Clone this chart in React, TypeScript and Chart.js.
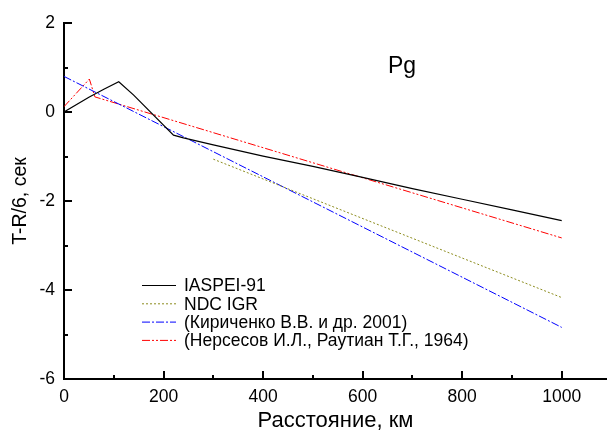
import React, { useEffect, useRef } from "react";
import { Chart, registerables } from "chart.js";

Chart.register(...registerables);

// ---- data ----
const iaspeiDist = [0, 50, 80, 110, 140, 220, 240, 300, 400, 500, 600, 700, 800, 900, 1000];
const iaspeiVal = [0, 0.33, 0.51, 0.68, 0.38, -0.52, -0.58, -0.74, -0.99, -1.22, -1.47, -1.72, -1.96, -2.2, -2.44];

const ndcDist = [300, 1000];
const ndcVal = [-1.06, -4.17];

const kirDist = [0, 1000];
const kirVal = [0.8, -4.84];

const nerDist = [0, 51, 62, 1000];
const nerVal = [0.12, 0.74, 0.34, -2.83];

const seriesLabels = [
  "IASPEI-91",
  "NDC IGR",
  "(Кириченко В.В. и др. 2001)",
  "(Нерсесов И.Л., Раутиан Т.Г., 1964)",
];
const seriesColors = ["#000000", "#8c8c1e", "#0000ff", "#ff0000"];
const seriesDash: number[][] = [[], [2, 2], [8, 2, 2, 2], [8, 2, 2, 2, 2, 2]];

const xTickValues = [0, 100, 200, 300, 400, 500, 600, 700, 800, 900, 1000];
const yTickValues = [-6, -5, -4, -3, -2, -1, 0, 1, 2];

const chartTitle = "Pg";
const xTitle = "Расстояние, км";
const yTitle = "T-R/6, сек";

const FONT = "'Liberation Sans', Arial, sans-serif";

const toPoints = (xs: number[], ys: number[]) => xs.map((x, i) => ({ x, y: ys[i] }));

const decorPlugin = {
  id: "decor",
  afterDraw(chart: any) {
    const { ctx, chartArea } = chart;
    const xs = chart.scales.x;
    const ys = chart.scales.y;
    ctx.save();
    ctx.strokeStyle = "#000";
    ctx.lineWidth = 2;
    ctx.setLineDash([]);
    // inward ticks on x axis
    xTickValues.forEach((v) => {
      const px = Math.round(xs.getPixelForValue(v));
      const len = v % 200 === 0 ? 8 : 4;
      ctx.beginPath();
      ctx.moveTo(px, chartArea.bottom);
      ctx.lineTo(px, chartArea.bottom - len);
      ctx.stroke();
    });
    // inward ticks on y axis
    yTickValues.forEach((v) => {
      const py = Math.round(ys.getPixelForValue(v));
      const len = v % 2 === 0 ? 8 : 4;
      ctx.beginPath();
      ctx.moveTo(chartArea.left, py);
      ctx.lineTo(chartArea.left + len, py);
      ctx.stroke();
    });
    // title text
    ctx.fillStyle = "#000";
    ctx.font = `23px ${FONT}`;
    ctx.textAlign = "left";
    ctx.textBaseline = "alphabetic";
    ctx.fillText(chartTitle, 388, 73);
    // legend
    ctx.font = `17.5px ${FONT}`;
    ctx.textBaseline = "middle";
    chart.data.datasets.forEach((ds: any, i: number) => {
      const yMid = 286.5 + i * 18.3;
      ctx.strokeStyle = ds.borderColor;
      ctx.lineWidth = 1;
      ctx.setLineDash(ds.borderDash || []);
      ctx.beginPath();
      ctx.moveTo(142, yMid - 1);
      ctx.lineTo(176, yMid - 1);
      ctx.stroke();
      ctx.setLineDash([]);
      ctx.fillStyle = "#000";
      ctx.fillText(ds.label, 184, yMid);
    });
    ctx.restore();
  },
};

export default function App() {
  const canvasRef = useRef<HTMLCanvasElement | null>(null);

  useEffect(() => {
    if (!canvasRef.current) return;
    const datasets = [
      toPoints(iaspeiDist, iaspeiVal),
      toPoints(ndcDist, ndcVal),
      toPoints(kirDist, kirVal),
      toPoints(nerDist, nerVal),
    ].map((data, i) => ({
      label: seriesLabels[i],
      data,
      borderColor: seriesColors[i],
      backgroundColor: seriesColors[i],
      borderDash: seriesDash[i],
      borderWidth: i === 0 ? 1.2 : 1,
      pointRadius: 0,
      tension: 0,
      fill: false,
    }));

    const chart = new Chart(canvasRef.current, {
      type: "line",
      data: { datasets },
      options: {
        animation: false,
        responsive: true,
        maintainAspectRatio: false,
        devicePixelRatio: 1,
        layout: { padding: { top: 23, left: 0, right: 0, bottom: 0 } },
        plugins: {
          legend: { display: false },
          tooltip: { enabled: false },
          title: { display: false },
        },
        scales: {
          x: {
            type: "linear",
            min: 0,
            max: 1091,
            afterBuildTicks: (scale: any) => {
              scale.ticks = xTickValues.map((v) => ({ value: v }));
            },
            afterFit: (scale: any) => {
              scale.height = 58;
            },
            grid: { display: false, drawTicks: false },
            border: { display: true, color: "#000", width: 2 },
            ticks: {
              color: "#000",
              font: { family: FONT, size: 17.5 },
              padding: 8,
              maxRotation: 0,
              autoSkip: false,
              callback: (v: any) => (Number(v) % 200 === 0 ? String(v) : ""),
            },
            title: {
              display: true,
              text: xTitle,
              color: "#000",
              font: { family: FONT, size: 22 },
              padding: { top: 0, bottom: 3 },
            },
          },
          y: {
            type: "linear",
            min: -6,
            max: 2,
            afterBuildTicks: (scale: any) => {
              scale.ticks = yTickValues.map((v) => ({ value: v }));
            },
            afterFit: (scale: any) => {
              scale.width = 64;
            },
            grid: { display: false, drawTicks: false },
            border: { display: true, color: "#000", width: 2 },
            ticks: {
              color: "#000",
              font: { family: FONT, size: 17.5 },
              padding: 9,
              autoSkip: false,
              callback: (v: any) => (Number(v) % 2 === 0 ? String(v) : ""),
            },
            title: {
              display: true,
              text: yTitle,
              color: "#000",
              font: { family: FONT, size: 19.5 },
              padding: { top: 9, bottom: 0 },
            },
          },
        },
      },
      plugins: [decorPlugin],
    } as any);

    return () => chart.destroy();
  }, []);

  return (
    <div style={{ position: "fixed", left: 0, top: 0, width: 607, height: 437, background: "#fff" }}>
      <canvas ref={canvasRef} style={{ display: "block" }} />
    </div>
  );
}
